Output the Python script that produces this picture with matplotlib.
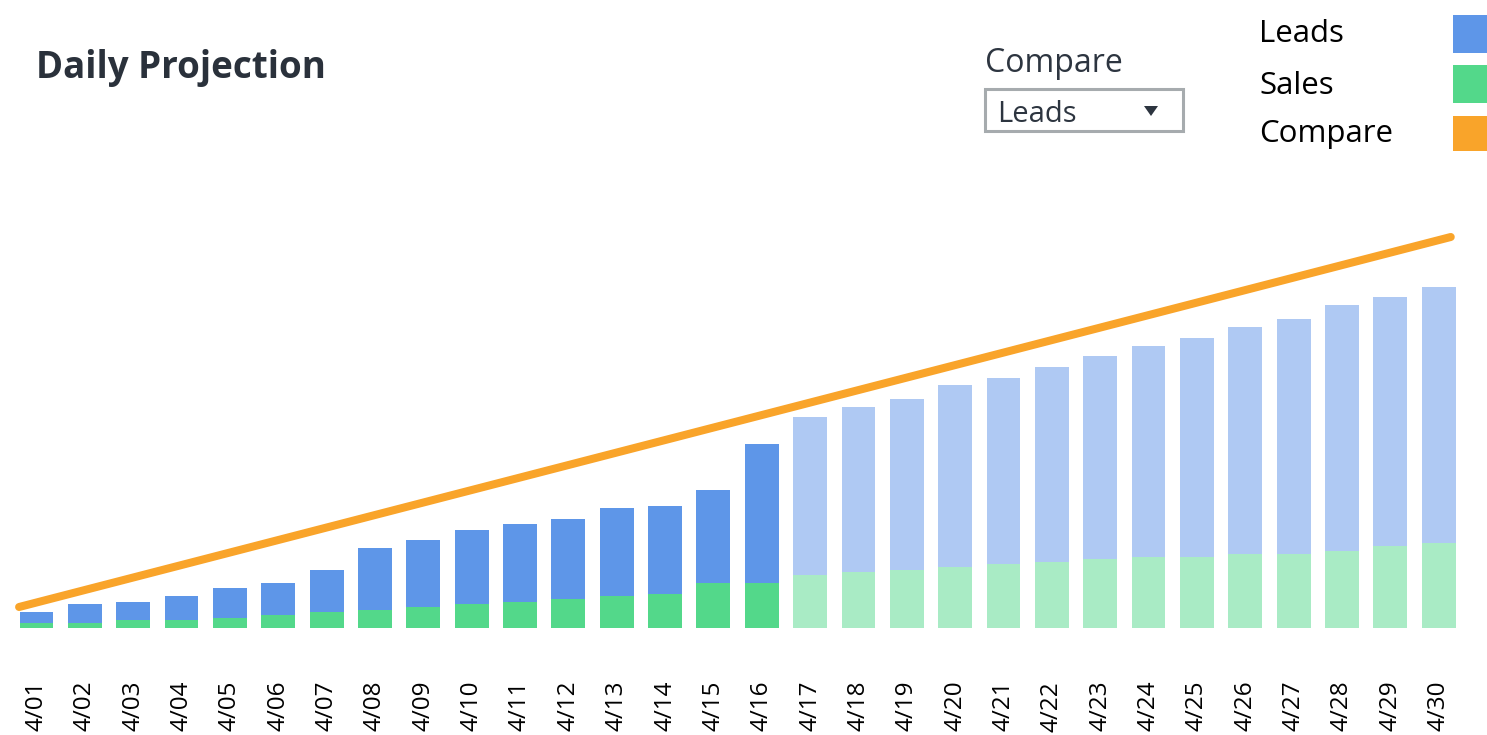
import numpy as np
import matplotlib.pyplot as plt
from matplotlib.patches import Rectangle, Polygon

# Datos (unidades arbitrarias)
dias = [f"4/{d:02d}" for d in range(1, 31)]
leads = [16, 24, 26, 32, 40, 45, 58, 80, 88, 98, 104, 109, 120, 122, 138, 184,
         211, 221, 229, 243, 250, 261, 272, 282, 290, 301, 309, 323, 331, 341]
sales = [5, 5, 8, 8, 10, 13, 16, 18, 21, 24, 26, 29, 32, 34, 45, 45,
         53, 56, 58, 61, 64, 66, 69, 71, 71, 74, 74, 77, 82, 85]
dias_reales = 16  # a partir del 17 es proyección
compare_x = [0.64, 30.25]
compare_y = [21, 391]

azul, azul_claro = "#5e96e8", "#afc9f3"
verde, verde_claro = "#53d88a", "#a9ebc5"
naranja = "#f9a42a"
texto = "#2a313b"

plt.rcParams['font.family'] = ['Open Sans', 'DejaVu Sans']

W, H = 1487, 735
fig = plt.figure(figsize=(W / 100, H / 100), dpi=100)

# Ejes: base en y=628 px, techo en y=160 px, ancho completo
ax = fig.add_axes([0, (H - 628) / H, 1, (628 - 160) / H])
paso = 48.35
ax.set_xlim(1 - 36.5 / paso, 1 + (W - 36.5) / paso)
ax.set_ylim(0, 468)

x = np.arange(1, 31)
col_leads = [azul if i < dias_reales else azul_claro for i in range(30)]
col_sales = [verde if i < dias_reales else verde_claro for i in range(30)]
ax.bar(x, leads, width=0.70, color=col_leads, zorder=2)
ax.bar(x, sales, width=0.70, color=col_sales, zorder=3)
ax.plot(compare_x, compare_y, color=naranja, lw=5.8, solid_capstyle='round', zorder=4)

for s in ax.spines.values():
    s.set_visible(False)
ax.set_yticks([])
ax.set_xticks(x)
ax.set_xticklabels(dias, rotation=90, fontsize=17.5, color="black")
ax.tick_params(axis='x', length=0, pad=38)

def fx(px):
    return px / W

def fy(py):
    return 1 - py / H

# Título
fig.text(fx(36), fy(78), "Daily Projection", fontsize=26.5, fontweight='bold',
         color=texto, va='baseline', ha='left')

# Selector "Compare"
fig.text(fx(985), fy(72), "Compare", fontsize=23, color="#2d3540", va='baseline')
fig.patches.append(Rectangle((fx(985), fy(131)), fx(198), (131 - 89) / H,
                             transform=fig.transFigure, fill=False,
                             edgecolor="#a6abae", lw=2.2))
fig.text(fx(997), fy(122), "Leads", fontsize=21, color="#2d3540", va='baseline')
fig.patches.append(Polygon([(fx(1144), fy(106)), (fx(1158), fy(106)), (fx(1151), fy(116))],
                           closed=True, transform=fig.transFigure,
                           facecolor="#2d3540", edgecolor="none"))

# Leyenda
leyenda = [("Leads", azul, 15, 53, 42), ("Sales", verde, 65, 103, 94),
           ("Compare", naranja, 116, 151, 142)]
for nombre, color, y0, y1, base in leyenda:
    fig.text(fx(1259), fy(base), nombre, fontsize=22.5, color="black", va='baseline')
    fig.patches.append(Rectangle((fx(1453), fy(y1)), fx(40), (y1 - y0) / H,
                                 transform=fig.transFigure, facecolor=color,
                                 edgecolor="none"))

fig.savefig("out.png", dpi=100)
